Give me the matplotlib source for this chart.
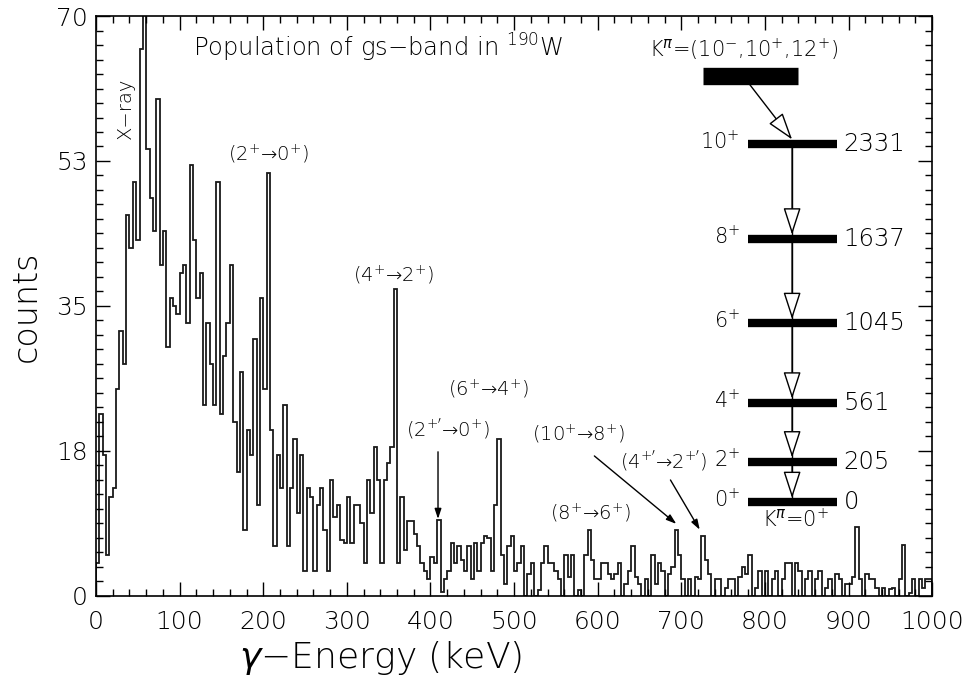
import matplotlib
matplotlib.use("Agg")
import matplotlib.pyplot as plt
import numpy as np
from matplotlib.patches import FancyArrowPatch

plt.rcParams['font.family'] = ['DejaVu Sans']
plt.rcParams['font.weight'] = 'light'
plt.rcParams['axes.labelweight'] = 'light'
plt.rcParams['mathtext.fontset'] = 'dejavusans'

# spectrum, 4 keV per bin, 0 - 1000 keV
bin_width = 4
counts = [
    4, 22, 17, 5, 12, 13, 25, 32, 28, 46,
    42, 50, 43, 66, 78, 54, 48, 44, 60, 40,
    44, 30, 36, 35, 34, 39, 40, 33, 52, 43,
    36, 39, 23, 33, 28, 23, 50, 22, 29, 33,
    40, 21, 15, 27, 8, 20, 17, 31, 11, 36,
    25, 51, 20, 6, 17, 13, 23, 6, 13, 19,
    10, 17, 3, 13, 12, 3, 11, 13, 8, 3,
    14, 9.5, 11, 6.7, 6.4, 12, 6.4, 11, 11, 8.8,
    4, 14, 10, 18, 14, 4, 14, 16, 18, 37,
    4, 12, 5.5, 9, 9, 7.5, 6, 4, 3, 2,
    4.7, 4, 9.2, 0.5, 2, 3, 6.4, 4, 6, 4.3,
    3, 6, 2, 6.4, 3, 6.4, 7.2, 7, 3, 11,
    19, 5, 1.5, 6, 7.2, 3, 4, 6, 0, 2.7,
    4, 0, 0.7, 4, 6, 4, 4, 3, 2, 0,
    5, 2.3, 5, 0, 0.7, 0, 5, 8, 4.3, 2,
    2, 4, 4, 2.7, 2, 2.7, 4, 0, 1.5, 3,
    6, 2.3, 1.5, 0, 2, 0, 5, 1.5, 4, 3,
    0, 2.7, 3.5, 8, 5, 2, 0, 2, 0, 2.3,
    2, 7.2, 4.3, 2.7, 0, 2, 2, 0, 1, 2,
    2, 0, 2.3, 3.5, 2.7, 5, 0, 1, 3, 0,
    3, 0, 2, 3, 0, 2, 4, 4, 0, 4,
    3, 0, 2, 3, 0, 2, 3, 0, 1, 2,
    0, 2.7, 2, 0, 1.5, 1.5, 2.3, 8.3, 2, 0,
    2.7, 2, 2, 1, 0, 1, 0, 0.8, 1, 0,
    2, 6.2, 0, 0.3, 2, 0, 2, 1, 2, 2,
]
edges = np.arange(len(counts) + 1) * bin_width

x_ticks = list(range(0, 1001, 100))
y_ticks = [0, 17.5, 35, 52.5, 70]
y_tick_labels = ["0", "18", "35", "53", "70"]

# level scheme of the gs-band
spins = ["10", "8", "6", "4", "2", "0"]
level_energies = ["2331", "1637", "1045", "561", "205", "0"]
level_y = [54.6, 43.1, 32.9, 23.3, 16.2, 11.3]   # drawing height in the panel

# peak labels: text, x, y
peak_labels = [
    ("(2$^{+}$\u21920$^{+}$)", 206, 53.4),
    ("(4$^{+}$\u21922$^{+}$)", 355, 38.8),
    ("(6$^{+}$\u21924$^{+}$)", 469, 25.0),
    ("(2$^{+'}$\u21920$^{+}$)", 421, 20.2),
    ("(10$^{+}$\u21928$^{+}$)", 577, 19.6),
    ("(4$^{+'}$\u21922$^{+'}$)", 679, 16.3),
    ("(8$^{+}$\u21926$^{+}$)", 591, 10.1),
]
# pointer arrows: start, end
pointers = [
    ((409, 17.4), (409, 9.3)),
    ((596, 16.9), (694, 8.7)),
    ((687, 14.0), (722, 8.0)),
]

fig = plt.figure(figsize=(9.7, 6.87), dpi=100)
ax = fig.add_axes([0.099, 0.1325, 0.862, 0.8442])

ax.stairs(counts, edges, color='#1a1a1a', lw=1.3, baseline=0)

ax.set_xlim(0, 1000)
ax.set_ylim(0, 70)
ax.set_xticks(x_ticks)
ax.set_xticks(np.arange(0, 1001, 20), minor=True)
ax.set_yticks(y_ticks, y_tick_labels)
ax.set_yticks(np.arange(0, 70.01, 1.75), minor=True)
ax.tick_params(which='both', direction='in', top=True, right=True, width=1)
ax.tick_params(which='major', length=10)
ax.tick_params(which='minor', length=5)
ax.tick_params(axis='x', pad=10, labelsize=18)
ax.tick_params(axis='y', pad=6, labelsize=18)
for s in ax.spines.values():
    s.set_linewidth(1.2)

ax.set_ylabel("counts", fontsize=24)
ax.yaxis.set_label_coords(-0.064, 0.5)
ax.set_xlabel(r"$\gamma$" + "\u2212Energy (keV)", fontsize=26)
ax.xaxis.set_label_coords(0.34, -0.075)

ax.text(337, 66.1, "Population of gs\u2212band in $^{190}$W", fontsize=17.5,
        ha='center', va='center')
ax.text(34.7, 58.9, "X\u2212ray", fontsize=14, rotation=90, ha='center', va='center')

for txt, x, y in peak_labels:
    ax.text(x, y, txt, fontsize=14, ha='center', va='center')
for p0, p1 in pointers:
    ax.add_patch(FancyArrowPatch(p0, p1, arrowstyle='-|>,head_length=6,head_width=2',
                                 mutation_scale=1, color='k', lw=1, shrinkA=0, shrinkB=0))

# level scheme
bar_x0, bar_x1 = 780, 886
line_x = 832.5
for spin, en, y in zip(spins, level_energies, level_y):
    ax.plot([bar_x0, bar_x1], [y, y], color='k', lw=6, solid_capstyle='butt')
    ax.text(bar_x0 - 10, y + 0.3, spin + "$^{+}$", fontsize=15, ha='right', va='center')
    ax.text(bar_x1 + 8, y, en, fontsize=17.5, ha='left', va='center')
ax.plot([line_x, line_x], [level_y[0], level_y[-1]], color='k', lw=1)
open_head = '-|>,head_length=17,head_width=5.5'
for y_up, y_low in zip(level_y[:-1], level_y[1:]):
    ax.add_patch(FancyArrowPatch((line_x, y_up), (line_x, y_low + 0.5), arrowstyle=open_head,
                                 mutation_scale=1, fc='white', ec='k', lw=1,
                                 shrinkA=0, shrinkB=0, zorder=3))

# isomer band head
ax.plot([726, 840], [62.7, 62.7], color='k', lw=12.5, solid_capstyle='butt')
ax.text(774, 66.0, r"K$^{\pi}$=(10$^{-}$,10$^{+}$,12$^{+}$)", fontsize=15,
        ha='center', va='center')
ax.add_patch(FancyArrowPatch((782, 61.7), (line_x, level_y[0] + 0.5), arrowstyle=open_head,
                             mutation_scale=1, fc='white', ec='k', lw=1,
                             shrinkA=0, shrinkB=0, zorder=3))
ax.text(836, 9.2, r"K$^{\pi}$=0$^{+}$", fontsize=15, ha='center', va='center')

fig.savefig("out.png", dpi=100)
